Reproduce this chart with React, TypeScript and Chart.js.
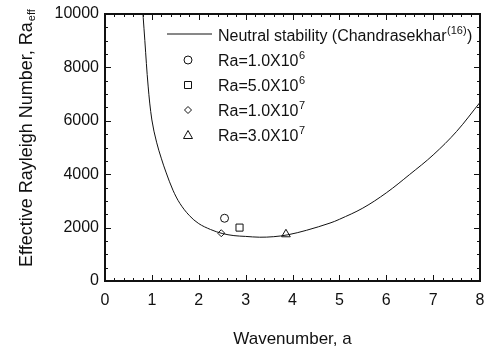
import React, { useEffect, useRef } from "react";
import { Chart, registerables } from "chart.js";

Chart.register(...registerables);

// ---- data ----
const curveA = [0.78, 0.85, 0.92, 1.0, 1.1, 1.2, 1.3, 1.45, 1.6, 1.8, 2.0, 2.25, 2.5, 2.75, 3.0, 3.3, 3.6, 3.9, 4.3, 4.8, 5.0, 5.5, 6.0, 6.5, 7.0, 7.5, 8.0];
const curveRa = [10750, 9000, 7300, 6030, 5200, 4600, 4080, 3400, 2900, 2450, 2150, 1930, 1780, 1700, 1670, 1640, 1660, 1730, 1900, 2170, 2310, 2730, 3300, 3990, 4720, 5600, 6690];

const ra1e6 = [{ x: 2.55, y: 2350 }];
const ra5e6 = [{ x: 2.87, y: 2000 }];
const ra1e7 = [{ x: 2.48, y: 1790 }];
const ra3e7 = [{ x: 3.86, y: 1750 }];

const xTicks = [0, 1, 2, 3, 4, 5, 6, 7, 8];
const yTicks = [0, 2000, 4000, 6000, 8000, 10000];

const legendRows = [
  { kind: "line", main: "Neutral stability (Chandrasekhar", sup: "(16)", tail: ")" },
  { kind: "circle", main: "Ra=1.0X10", sup: "6", tail: "" },
  { kind: "rect", main: "Ra=5.0X10", sup: "6", tail: "" },
  { kind: "diamond", main: "Ra=1.0X10", sup: "7", tail: "" },
  { kind: "triangle", main: "Ra=3.0X10", sup: "7", tail: "" },
];

const FONT = '"Liberation Sans", Arial, Helvetica, sans-serif';
const INK = "#111";

function drawMarker(ctx: CanvasRenderingContext2D, kind: string, x: number, y: number) {
  ctx.save();
  ctx.strokeStyle = INK;
  ctx.fillStyle = "#fff";
  ctx.lineWidth = 1;
  ctx.beginPath();
  if (kind === "circle") {
    ctx.arc(x, y, 4, 0, Math.PI * 2);
  } else if (kind === "rect") {
    ctx.rect(x - 3.5, y - 3.5, 7, 7);
  } else if (kind === "diamond") {
    ctx.moveTo(x, y - 3.5);
    ctx.lineTo(x + 3.5, y);
    ctx.lineTo(x, y + 3.5);
    ctx.lineTo(x - 3.5, y);
    ctx.closePath();
  } else if (kind === "triangle") {
    ctx.moveTo(x, y - 4.5);
    ctx.lineTo(x + 4.5, y + 3.5);
    ctx.lineTo(x - 4.5, y + 3.5);
    ctx.closePath();
  }
  ctx.fill();
  ctx.stroke();
  ctx.restore();
}

const framePlugin = {
  id: "frameTicks",
  afterDatasetsDraw(chart: any) {
    const { ctx, chartArea: a, scales } = chart;
    const xs = scales.x;
    const ys = scales.y;
    ctx.save();
    ctx.strokeStyle = INK;
    ctx.lineWidth = 1;
    for (let i = 0; i <= 40; i++) {
      const v = i * 0.2;
      const px = Math.round(xs.getPixelForValue(v)) + 0.5;
      const major = i % 5 === 0;
      const len = major ? 6 : 3;
      ctx.beginPath();
      ctx.moveTo(px, a.bottom);
      ctx.lineTo(px, a.bottom - len);
      ctx.moveTo(px, a.top);
      ctx.lineTo(px, a.top + len);
      ctx.stroke();
    }
    for (let i = 0; i <= 20; i++) {
      const v = i * 500;
      const py = Math.round(ys.getPixelForValue(v)) + 0.5;
      const major = i % 4 === 0;
      const len = major ? 6 : 3;
      ctx.beginPath();
      ctx.moveTo(a.left, py);
      ctx.lineTo(a.left + len, py);
      ctx.moveTo(a.right, py);
      ctx.lineTo(a.right - len, py);
      ctx.stroke();
    }
    ctx.lineWidth = 2;
    ctx.strokeRect(a.left, a.top, a.right - a.left, a.bottom - a.top);
    ctx.restore();
  },
  afterDraw(chart: any) {
    const { ctx, chartArea: a } = chart;
    ctx.save();
    ctx.fillStyle = INK;
    ctx.textBaseline = "middle";
    const rowY = [37, 62, 87, 112, 137];
    legendRows.forEach((r, i) => {
      const y = rowY[i];
      if (r.kind === "line") {
        ctx.save();
        ctx.strokeStyle = INK;
        ctx.lineWidth = 1;
        ctx.beginPath();
        ctx.moveTo(167, y - 3);
        ctx.lineTo(212, y - 3);
        ctx.stroke();
        ctx.restore();
      } else {
        drawMarker(ctx, r.kind, 188, y - 2);
      }
      let x = 218;
      ctx.font = `16px ${FONT}`;
      ctx.fillText(r.main, x, y);
      x += ctx.measureText(r.main).width;
      ctx.font = `11px ${FONT}`;
      ctx.fillText(r.sup, x + 0.5, y - 6);
      x += ctx.measureText(r.sup).width + 1;
      if (r.tail) {
        ctx.font = `16px ${FONT}`;
        ctx.fillText(r.tail, x, y);
      }
    });

    ctx.textBaseline = "alphabetic";
    ctx.textAlign = "center";
    ctx.font = `17px ${FONT}`;
    ctx.fillText("Wavenumber, a", (a.left + a.right) / 2, 344);

    ctx.save();
    ctx.translate(32, 267);
    ctx.rotate(-Math.PI / 2);
    ctx.textAlign = "left";
    ctx.font = `18px ${FONT}`;
    const main = "Effective Rayleigh Number, Ra";
    ctx.fillText(main, 0, 0);
    const w = ctx.measureText(main).width;
    ctx.font = `11px ${FONT}`;
    ctx.fillText("eff", w + 1, 3);
    ctx.restore();
    ctx.restore();
  },
};

export default function App() {
  const ref = useRef<HTMLCanvasElement | null>(null);
  useEffect(() => {
    document.body.style.margin = "0";
    if (!ref.current) return;
    const chart = new Chart(ref.current, {
      type: "line",
      data: {
        datasets: [
          {
            label: "Neutral stability",
            data: curveA.map((a, i) => ({ x: a, y: curveRa[i] })),
            borderColor: INK,
            borderWidth: 1,
            pointRadius: 0,
            fill: false,
            tension: 0.35,
          },
          {
            label: "Ra=1.0X10^6",
            data: ra1e6,
            showLine: false,
            pointStyle: "circle",
            pointRadius: 4,
            borderColor: INK,
            backgroundColor: "#fff",
            borderWidth: 1,
          },
          {
            label: "Ra=5.0X10^6",
            data: ra5e6,
            showLine: false,
            pointStyle: "rect",
            pointRadius: 5,
            borderColor: INK,
            backgroundColor: "#fff",
            borderWidth: 1,
          },
          {
            label: "Ra=1.0X10^7",
            data: ra1e7,
            showLine: false,
            pointStyle: "rectRot",
            pointRadius: 3.5,
            borderColor: INK,
            backgroundColor: "#fff",
            borderWidth: 1,
          },
          {
            label: "Ra=3.0X10^7",
            data: ra3e7,
            showLine: false,
            pointStyle: "triangle",
            pointRadius: 5,
            borderColor: INK,
            backgroundColor: "#fff",
            borderWidth: 1,
          },
        ],
      } as any,
      options: {
        animation: false,
        responsive: true,
        maintainAspectRatio: false,
        layout: { padding: { left: 45, right: 4, top: 14, bottom: 38 } },
        plugins: { legend: { display: false }, tooltip: { enabled: false } },
        scales: {
          x: {
            type: "linear",
            min: 0,
            max: 8,
            afterBuildTicks: (s: any) => {
              s.ticks = xTicks.map((v) => ({ value: v }));
            },
            afterFit: (s: any) => {
              s.height = 30;
              s.paddingLeft = 0;
              s.paddingRight = 0;
            },
            grid: { display: false, drawTicks: false },
            border: { display: false },
            ticks: {
              padding: 10,
              color: INK,
              font: { family: FONT, size: 16 },
              callback: (v: any) => String(v),
              maxRotation: 0,
            },
          },
          y: {
            type: "linear",
            min: 0,
            max: 10000,
            afterBuildTicks: (s: any) => {
              s.ticks = yTicks.map((v) => ({ value: v }));
            },
            afterFit: (s: any) => {
              s.width = 60;
              s.paddingTop = 0;
              s.paddingBottom = 0;
            },
            grid: { display: false, drawTicks: false },
            border: { display: false },
            ticks: {
              padding: 6,
              color: INK,
              font: { family: FONT, size: 16 },
              callback: (v: any) => String(v),
            },
          },
        },
      } as any,
      plugins: [framePlugin],
    });
    return () => chart.destroy();
  }, []);
  return (
    <div style={{ width: 486, height: 349, position: "relative" }}>
      <canvas ref={ref} />
    </div>
  );
}
